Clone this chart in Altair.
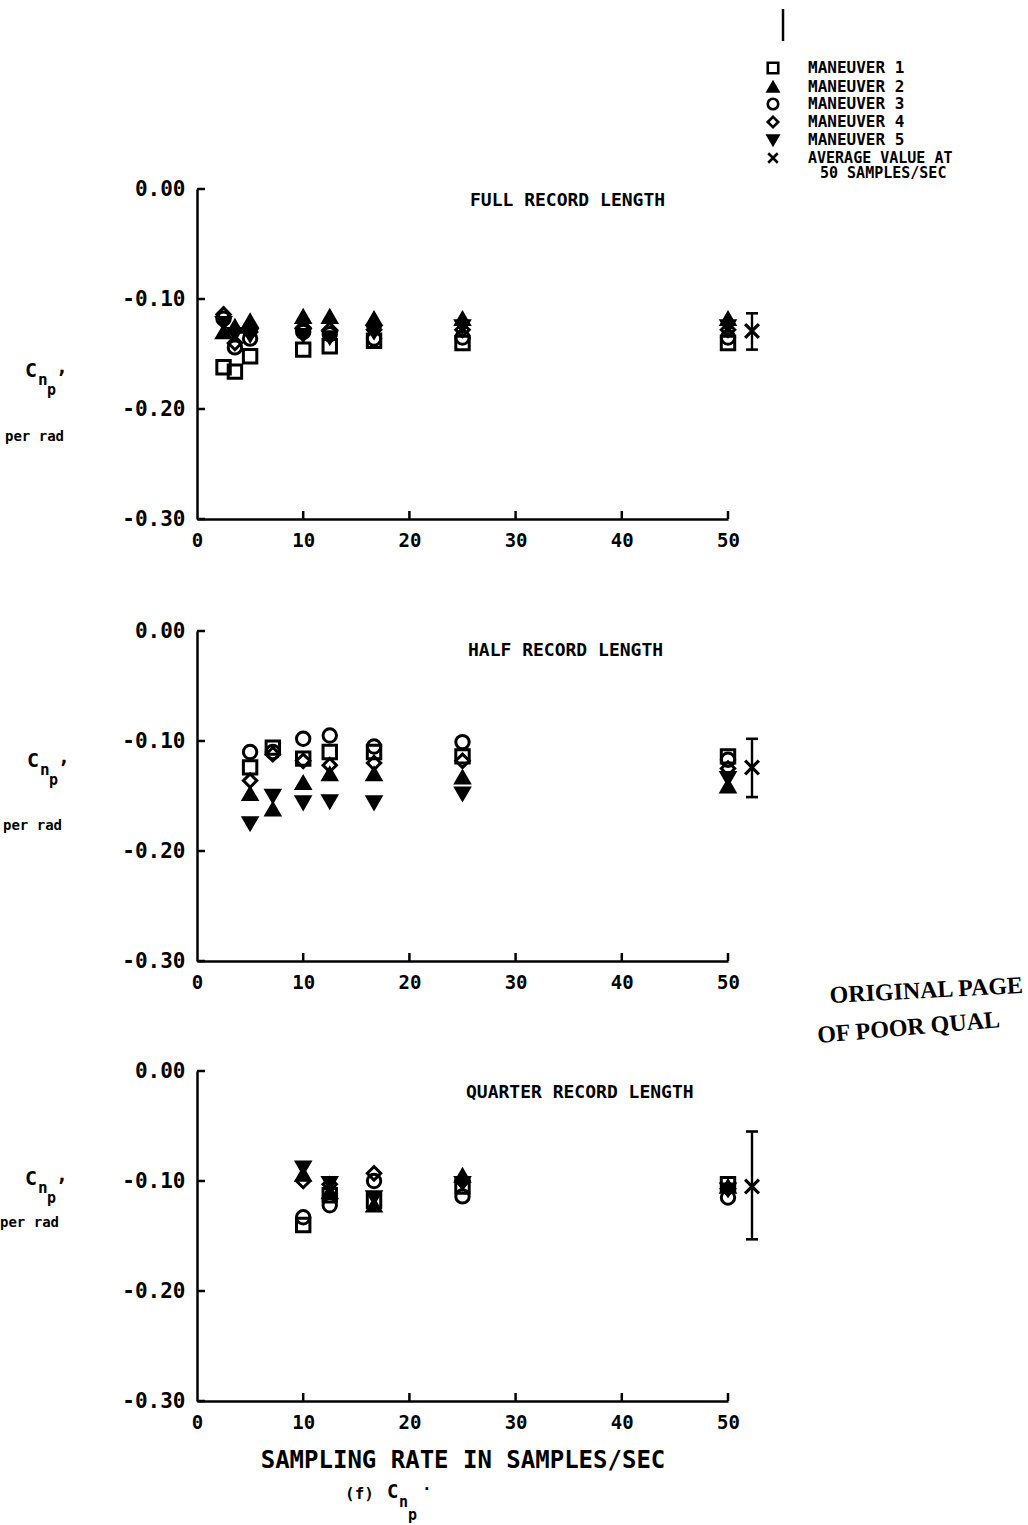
import altair as alt
import pandas as pd

# ---------------------------------------------------------------- data
MANEUVERS = ["MANEUVER 1", "MANEUVER 2", "MANEUVER 3", "MANEUVER 4", "MANEUVER 5"]
SYMBOLS = ["square", "triangle-up", "circle", "diamond", "triangle-down"]
FILLS = ["transparent", "black", "transparent", "transparent", "black"]
AVG_LABEL = ["AVERAGE VALUE AT", "50 SAMPLES/SEC"]
X_TICKS = [0, 10, 20, 30, 40, 50]
Y_TICKS = [0.0, -0.1, -0.2, -0.3]

# full record length
full_rates = [2.5, 3.57, 5.0, 10.0, 12.5, 16.67, 25.0, 50.0]
full_m1 = [-0.162, -0.166, -0.152, -0.146, -0.143, -0.138, -0.140, -0.140]
full_m2 = [-0.130, -0.125, -0.120, -0.116, -0.116, -0.118, -0.118, -0.118]
full_m3 = [-0.118, -0.144, -0.136, -0.130, -0.132, -0.136, -0.135, -0.135]
full_m4 = [-0.114, -0.140, -0.130, -0.126, -0.128, -0.128, -0.128, -0.128]
full_m5 = [-0.122, -0.132, -0.133, -0.133, -0.135, -0.130, -0.125, -0.125]
full_avg = [-0.129, -0.146, -0.113]   # mean, low, high

# half record length
half_rates = [5.0, 7.14, 10.0, 12.5, 16.67, 25.0, 50.0]
half_m1 = [-0.124, -0.106, -0.116, -0.110, -0.110, -0.114, -0.114]
half_m2 = [-0.148, -0.162, -0.138, -0.130, -0.130, -0.133, -0.141]
half_m3 = [-0.110, -0.110, -0.098, -0.095, -0.105, -0.101, -0.117]
half_m4 = [-0.136, -0.112, -0.118, -0.122, -0.120, -0.118, -0.125]
half_m5 = [-0.175, -0.150, -0.156, -0.155, -0.156, -0.148, -0.134]
half_avg = [-0.124, -0.151, -0.098]

# quarter record length
quarter_rates = [10.0, 12.5, 16.67, 25.0, 50.0]
quarter_m1 = [-0.140, -0.113, -0.118, -0.105, -0.103]
quarter_m2 = [-0.094, -0.110, -0.122, -0.095, -0.105]
quarter_m3 = [-0.133, -0.122, -0.100, -0.114, -0.115]
quarter_m4 = [-0.100, -0.103, -0.093, -0.100, -0.107]
quarter_m5 = [-0.088, -0.102, -0.115, -0.102, -0.108]
quarter_avg = [-0.105, -0.153, -0.055]

# ---------------------------------------------------------------- style
W, H = 531, 330
PX_X = W / 50.0
PX_Y = H / 0.30
TICK_PX = 8
AVG_SHIFT = 24
MONO = "DejaVu Sans Mono"
X_SHAPE = "M-1,-1L1,1M-1,1L1,-1"
ONE = pd.DataFrame({"k": [0]})


def long_table(rates, series):
    rows = []
    for name, vals in zip(MANEUVERS, series):
        for r, v in zip(rates, vals):
            rows.append({"rate": r, "value": v, "maneuver": name})
    return pd.DataFrame(rows)


def x_axis(title):
    kw = dict(values=X_TICKS, grid=False, ticks=False, domainColor="black",
              domainWidth=2.5, labelFont=MONO, labelFontWeight="bold",
              labelFontSize=19, labelColor="black", labelPadding=12,
              labelFlush=False)
    if title:
        kw.update(title=title, titleFont=MONO, titleFontWeight="bold",
                  titleFontSize=24, titleColor="black", titlePadding=16)
    else:
        kw["title"] = None
    return alt.Axis(**kw)


Y_AXIS = alt.Axis(values=Y_TICKS, grid=False, ticks=False, title=None,
                  domainColor="black", domainWidth=2.5, labelFont=MONO,
                  labelFontWeight="bold", labelFontSize=21, labelColor="black",
                  labelPadding=12, labelFlush=False,
                  labelExpr="(datum.value < 0 ? '-' : '') + format(abs(datum.value), '.2f')")

X_SCALE = alt.Scale(domain=[0, 50], nice=False, zero=False)
Y_SCALE = alt.Scale(domain=[-0.30, 0.0], nice=False, zero=False)


def text_at(txt, x, y, size=16, font=MONO, weight="bold", align="left",
            baseline="middle", angle=0):
    kw = dict(font=font, fontWeight=weight, fontSize=size, align=align,
              baseline=baseline, color="black")
    if angle:
        kw["angle"] = angle
    return alt.Chart(ONE).mark_text(**kw).encode(
        x=alt.value(x), y=alt.value(y), text=alt.value(txt))


def sym_at(shape, fill, x, y, size=110):
    return alt.Chart(ONE).mark_point(shape=shape, filled=True, fill=fill,
                                     stroke="black", strokeWidth=2.6,
                                     size=size, opacity=1).encode(
        x=alt.value(x), y=alt.value(y))


def ylabel(cx, cy, per_x, per_y):
    return [
        text_at("C", cx, cy, size=20),
        text_at("n", cx + 13, cy + 9, size=16),
        text_at("p", cx + 22, cy + 19, size=15),
        text_at(",", cx + 31, cy - 4, size=20),
        text_at("per rad", per_x, per_y, size=14),
    ]


def panel(rates, series, avg, title, title_xy, ylab, x_title=None, extra=()):
    xa = x_axis(x_title)

    def X(f):
        return alt.X(f"{f}:Q", scale=X_SCALE, axis=xa)

    def Y(f):
        return alt.Y(f"{f}:Q", scale=Y_SCALE, axis=Y_AXIS)

    df = long_table(rates, series)
    points = alt.Chart(df).mark_point(filled=True, stroke="black",
                                      strokeWidth=3.0, size=180, opacity=1).encode(
        x=X("rate"), y=Y("value"),
        shape=alt.Shape("maneuver:N", scale=alt.Scale(domain=MANEUVERS, range=SYMBOLS), legend=None),
        fill=alt.Fill("maneuver:N", scale=alt.Scale(domain=MANEUVERS, range=FILLS), legend=None),
    )

    ytk = pd.DataFrame({"yt": Y_TICKS, "a": 0.0, "b": TICK_PX / PX_X})
    yticks = alt.Chart(ytk).mark_rule(color="black", strokeWidth=2.5).encode(
        x=X("a"), x2="b:Q", y=Y("yt"))
    xtk = pd.DataFrame({"xt": X_TICKS[1:], "a": -0.30, "b": -0.30 + TICK_PX / PX_Y})
    xticks = alt.Chart(xtk).mark_rule(color="black", strokeWidth=2.5).encode(
        x=X("xt"), y=Y("a"), y2="b:Q")

    avg_df = pd.DataFrame({"rate": [50.0], "mean": [avg[0]], "lo": [avg[1]], "hi": [avg[2]]})
    bar = alt.Chart(avg_df).mark_rule(color="black", strokeWidth=2.4, xOffset=AVG_SHIFT).encode(
        x=X("rate"), y=Y("lo"), y2="hi:Q")
    cap_lo = alt.Chart(avg_df).mark_tick(color="black", orient="horizontal", size=12,
                                         thickness=2.6, xOffset=AVG_SHIFT, opacity=1).encode(
        x=X("rate"), y=Y("lo"))
    cap_hi = alt.Chart(avg_df).mark_tick(color="black", orient="horizontal", size=12,
                                         thickness=2.6, xOffset=AVG_SHIFT, opacity=1).encode(
        x=X("rate"), y=Y("hi"))
    mean = alt.Chart(avg_df).mark_point(shape=X_SHAPE, size=190, strokeWidth=3.2,
                                        color="black", xOffset=AVG_SHIFT, opacity=1).encode(
        x=X("rate"), y=Y("mean"))

    heading = text_at(title, title_xy[0], title_xy[1], size=18)
    layers = [yticks, xticks, points, bar, cap_lo, cap_hi, mean, heading]
    layers += ylabel(*ylab)
    layers += list(extra)
    return alt.layer(*layers).properties(
        width=W, height=H, view=alt.ViewBackground(stroke="transparent", strokeWidth=0))


# legend drawn above the first panel
legend = [alt.Chart(ONE).mark_rule(color="black", strokeWidth=2.5).encode(
    x=alt.value(586), y=alt.value(-180), y2=alt.value(-148))]
row_y = [-121, -102, -85, -67, -49, -31]
for i, name in enumerate(MANEUVERS):
    legend.append(sym_at(SYMBOLS[i], FILLS[i], 576, row_y[i]))
    legend.append(text_at(name, 611, row_y[i], size=16))
legend.append(alt.Chart(ONE).mark_point(shape=X_SHAPE, size=90, strokeWidth=2.6,
                                        color="black", opacity=1).encode(
    x=alt.value(576), y=alt.value(row_y[5])))
legend.append(text_at(AVG_LABEL[0], 611, row_y[5], size=15))
legend.append(text_at(AVG_LABEL[1], 623, row_y[5] + 15, size=15))

stamp = [
    text_at("ORIGINAL PAGE", 633, 372, size=24, font="Liberation Serif",
            baseline="alphabetic", angle=357),
    text_at("OF POOR QUAL", 621, 412, size=24, font="Liberation Serif",
            baseline="alphabetic", angle=355),
]

footer = [
    text_at("(f)", 148, 423, size=16),
    text_at("C", 190, 421, size=19),
    text_at("n", 202, 431, size=15),
    text_at("p", 211, 444, size=15),
    text_at(".", 225, 414, size=16),
]

p1 = panel(full_rates, [full_m1, full_m2, full_m3, full_m4, full_m5], full_avg,
           "FULL RECORD LENGTH", (273, 12), (-172, 182, -192, 248), extra=legend)
p2 = panel(half_rates, [half_m1, half_m2, half_m3, half_m4, half_m5], half_avg,
           "HALF RECORD LENGTH", (271, 20), (-170, 130, -194, 195), extra=stamp)
p3 = panel(quarter_rates, [quarter_m1, quarter_m2, quarter_m3, quarter_m4, quarter_m5],
           quarter_avg, "QUARTER RECORD LENGTH", (269, 22), (-172, 108, -197, 152),
           x_title="SAMPLING RATE IN SAMPLES/SEC", extra=footer)

chart = alt.vconcat(p1, alt.vconcat(p2, p3, spacing=12), spacing=70).properties(
    padding={"left": 0, "top": 7, "right": 0, "bottom": 0}
).configure(background="white").configure_view(stroke="transparent", strokeWidth=0)

chart.save("out.html", embed_options={"renderer": "svg", "actions": False})
